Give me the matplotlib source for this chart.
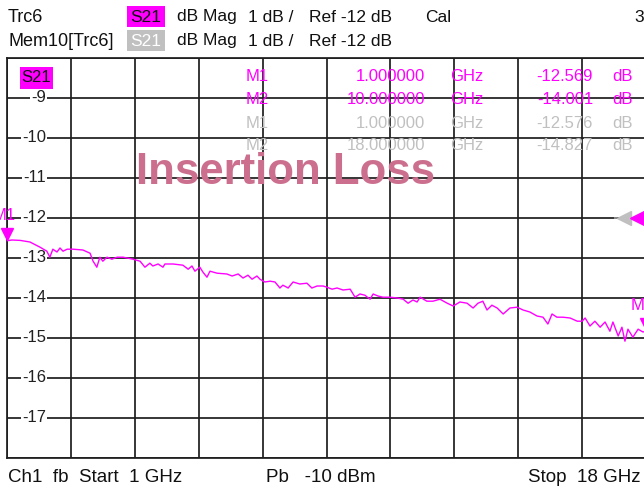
import numpy as np
import matplotlib
matplotlib.use('Agg')
import matplotlib.pyplot as plt
from matplotlib import transforms
from matplotlib.patches import Rectangle

plt.rcParams['font.family'] = ['Liberation Sans', 'DejaVu Sans']

# trace Trc6, S21
freq_ghz = [1.00, 1.13, 1.35, 1.61, 1.88, 2.06, 2.14, 2.22, 2.33, 2.41, 2.49, 2.60, 2.76,
            3.02, 3.21, 3.29, 3.39, 3.47, 3.55, 3.66, 3.79, 3.93, 4.09, 4.35, 4.54, 4.67,
            4.80, 4.88, 5.02, 5.15, 5.20, 5.42, 5.68, 5.82, 5.92, 6.00, 6.13, 6.21, 6.32,
            6.40, 6.59, 6.85, 6.99, 7.15, 7.28, 7.41, 7.52, 7.65, 7.73, 7.86, 8.00, 8.13,
            8.26, 8.34, 8.48, 8.61, 8.79, 8.98, 9.11, 9.25, 9.41, 9.51, 9.65, 9.78, 9.94,
            10.13, 10.26, 10.39, 10.52, 10.66, 10.74, 10.87, 11.00, 11.19, 11.38, 11.54,
            11.67, 11.80, 11.91, 11.99, 12.17, 12.33, 12.52, 12.71, 12.87, 13.05, 13.24,
            13.40, 13.53, 13.66, 13.77, 13.90, 14.04, 14.20, 14.38, 14.57, 14.73, 14.91,
            15.10, 15.26, 15.39, 15.50, 15.63, 15.79, 15.98, 16.17, 16.30, 16.38, 16.51,
            16.64, 16.78, 16.91, 17.04, 17.12, 17.26, 17.36, 17.44, 17.52, 17.65, 17.79,
            17.92, 18.00]
s21_db = [-12.57, -12.55, -12.56, -12.60, -12.73, -12.83, -12.98, -12.78, -12.85, -12.75,
          -12.83, -12.78, -12.78, -12.80, -12.88, -13.08, -13.23, -12.98, -13.08, -12.98,
          -13.03, -12.98, -12.98, -13.03, -13.08, -13.23, -13.13, -13.20, -13.15, -13.23,
          -13.15, -13.15, -13.18, -13.28, -13.20, -13.33, -13.23, -13.35, -13.48, -13.33,
          -13.38, -13.40, -13.45, -13.40, -13.50, -13.43, -13.53, -13.45, -13.53, -13.60,
          -13.58, -13.60, -13.75, -13.68, -13.75, -13.60, -13.65, -13.63, -13.75, -13.70,
          -13.70, -13.73, -13.78, -13.75, -13.80, -13.78, -13.98, -13.90, -13.93, -14.03,
          -13.90, -13.95, -13.98, -13.98, -14.00, -14.03, -14.13, -14.05, -14.10, -13.98,
          -14.08, -14.08, -14.03, -14.13, -14.20, -14.10, -14.13, -14.25, -14.13, -14.08,
          -14.30, -14.18, -14.25, -14.40, -14.25, -14.23, -14.30, -14.35, -14.45, -14.48,
          -14.65, -14.40, -14.48, -14.48, -14.50, -14.58, -14.58, -14.50, -14.70, -14.58,
          -14.73, -14.60, -14.83, -14.60, -14.95, -14.73, -15.08, -14.78, -14.98, -14.78,
          -14.85, -14.83]

y_ticks = [-9, -10, -11, -12, -13, -14, -15, -16, -17]

mk_names = ['M1', 'M2', 'M1', 'M2']
mk_freq = ['1.000000', '10.000000', '1.000000', '18.000000']
mk_vals = ['-12.569', '-14.001', '-12.576', '-14.827']
mk_cols = ['#ff00ff', '#ff00ff', '#c0c0c0', '#c0c0c0']

MAG = '#ff00ff'
INK = '#101010'
W, H = 644, 488

def px(x):
    return x / W

def py(y):
    return 1 - y / H

fig = plt.figure(figsize=(6.44, 4.88), dpi=100)
fig.patch.set_facecolor('white')
ax = fig.add_axes([px(7), py(458), 639 / W, 400 / H])
ax.set_xlim(1, 18)
ax.set_ylim(-18, -8)
ax.set_xticks(np.linspace(1, 18, 11))
ax.set_yticks(np.arange(-18, -7, 1))
ax.grid(True, color='#1e1e1e', lw=1.25)
ax.tick_params(length=0, labelbottom=False, labelleft=False)
for s in ax.spines.values():
    s.set_color('#1e1e1e')
    s.set_linewidth(1.25)

# y labels sit inside the grid with a white patch
bt = transforms.blended_transform_factory(ax.transAxes, ax.transData)
for v in y_ticks:
    ax.text(39 / 639, v, str(v), transform=bt, ha='right', va='center', fontsize=12,
            color='#202020', bbox=dict(boxstyle='square,pad=0.08', fc='white', ec='none'),
            zorder=3)

ax.plot(freq_ghz, s21_db, color=MAG, lw=1.0, zorder=4)

# marker triangles
up6 = transforms.offset_copy(ax.transData, fig=fig, x=0, y=7, units='dots')
ax.plot([freq_ghz[0]], [s21_db[0]], marker='v', ms=9, color=MAG, transform=up6,
        clip_on=False, zorder=5)
ax.plot([freq_ghz[-1]], [s21_db[-1]], marker='v', ms=9, color=MAG, transform=up6,
        clip_on=False, zorder=5)
fig.text(px(4), py(216), 'M1', color=MAG, fontsize=12, ha='center', va='center')
fig.text(px(631), py(305), 'M2', color=MAG, fontsize=12, ha='left', va='center')

# reference level arrows
ax.plot([(614 - 7) / 639, (618 - 7) / 639], [-12, -12], transform=bt, color='#909090',
        lw=1.3, ls=(0, (2, 1)), zorder=5)
ax.plot([(624 - 7) / 639], [-12], marker='<', ms=10, color='#c0c0c0', transform=bt,
        clip_on=False, zorder=5)
ax.plot([(637 - 7) / 639], [-12], marker='<', ms=10, color=MAG, transform=bt,
        clip_on=False, zorder=6)

# inner S21 tag
fig.patches.append(Rectangle((px(20), py(89)), 33 / W, 22 / H, transform=fig.transFigure,
                             fc=MAG, ec='none', zorder=5))
fig.text(px(36.5), py(78), 'S21', fontsize=12, color=INK, ha='center', va='center',
         zorder=6)

# marker readout table
row_y = [76, 99, 123, 146]
for i in range(4):
    c = mk_cols[i]
    fig.text(px(246), py(row_y[i]), mk_names[i], color=c, fontsize=12, va='center')
    fig.text(px(425), py(row_y[i]), mk_freq[i], color=c, fontsize=12, va='center', ha='right')
    fig.text(px(450), py(row_y[i]), 'GHz', color=c, fontsize=12, va='center')
    fig.text(px(593), py(row_y[i]), mk_vals[i], color=c, fontsize=12, va='center', ha='right')
    fig.text(px(612), py(row_y[i]), 'dB', color=c, fontsize=12, va='center')

fig.text(px(286), py(173), 'Insertion Loss', color='#cc6f8f', fontsize=31.5,
         fontweight='bold', ha='center', va='center', zorder=7)

# header lines
fig.patches.append(Rectangle((px(127), py(27)), 38 / W, 21 / H, transform=fig.transFigure,
                             fc=MAG, ec='none'))
fig.patches.append(Rectangle((px(127), py(51)), 38 / W, 21 / H, transform=fig.transFigure,
                             fc='#c0c0c0', ec='none'))
for yy, name, tcol in [(17, 'Trc6', INK), (41, 'Mem10[Trc6]', 'white')]:
    fig.text(px(8), py(yy), name, fontsize=13, color=INK, va='center')
    fig.text(px(146), py(yy), 'S21', fontsize=12.5, color=tcol, va='center', ha='center')
    fig.text(px(177), py(yy), 'dB Mag', fontsize=12.5, color=INK, va='center')
    fig.text(px(248), py(yy), '1 dB /', fontsize=12.5, color=INK, va='center')
    fig.text(px(309), py(yy), 'Ref -12 dB', fontsize=12.5, color=INK, va='center')
fig.text(px(425), py(17), 'Cal', fontsize=12.5, color=INK, va='center')
fig.text(px(634), py(17), '3', fontsize=12.5, color=INK, va='center')

# footer
fig.text(px(8), py(477), 'Ch1  fb  Start  1 GHz', fontsize=13.5, color=INK, va='center')
fig.text(px(266), py(477), 'Pb   -10 dBm', fontsize=13.5, color=INK, va='center')
fig.text(px(641), py(477), 'Stop  18 GHz', fontsize=13.5, color=INK, va='center', ha='right')

fig.savefig('out.png', dpi=100)
